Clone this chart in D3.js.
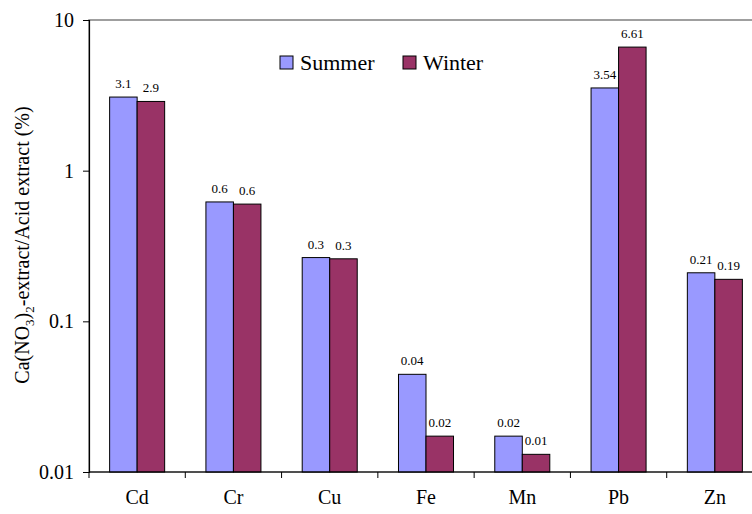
<!DOCTYPE html>
<html>
<head>
<meta charset="utf-8">
<script src="https://cdn.jsdelivr.net/npm/d3@7"></script>
<style>
  html, body { margin: 0; padding: 0; background: #fff; }
  svg { display: block; }
  #chart text, #chart tspan { font-family: "Liberation Serif", "Times New Roman", serif !important; }
</style>
</head>
<body>
<svg id="chart" width="752" height="514" font-family="Liberation Serif"></svg>
<script>
// Ratio of Ca(NO3)2-extractable to acid-extractable metal, by season
const elements = ["Cd", "Cr", "Cu", "Fe", "Mn", "Pb", "Zn"];
const summer = [3.08, 0.62, 0.265, 0.0445, 0.0173, 3.54, 0.21];
const winter = [2.88, 0.60, 0.26, 0.0173, 0.0131, 6.61, 0.19];
// decimals used when printing each element's value labels
const labelDecimals = [1, 1, 1, 2, 2, 2, 2];
const seriesNames = ["Summer", "Winter"];
const seriesColors = ["#9999ff", "#993366"];
const yTicks = [0.01, 0.1, 1, 10];

const FONT = "Liberation Serif";
const FONT_CSS = '"Liberation Serif", "Times New Roman", serif';

const svg = d3.select("#chart").attr("font-family", FONT);
const m = { left: 89, top: 20, right: 763, bottom: 472 };

const x = d3.scaleBand().domain(elements).range([m.left, m.right]).paddingInner(0).paddingOuter(0);
const inner = d3.scaleBand().domain(seriesNames).range([0, x.bandwidth()]).paddingInner(0).paddingOuter(0.75);
const y = d3.scaleLog().domain([0.01, 10]).range([m.bottom, m.top]);

const rows = elements.map((el, i) => ({
  el, dec: labelDecimals[i],
  vals: [{ s: "Summer", v: summer[i], c: seriesColors[0] }, { s: "Winter", v: winter[i], c: seriesColors[1] }]
}));

// plot frame (top edge; right edge falls outside the page)
svg.append("rect")
  .attr("x", m.left).attr("y", m.top)
  .attr("width", m.right - m.left).attr("height", m.bottom - m.top)
  .attr("fill", "none").attr("stroke", "#808080").attr("stroke-width", 1.5);

// bars with value labels
const g = svg.append("g");
rows.forEach(r => {
  const gx = x(r.el);
  r.vals.forEach(d => {
    const bx = gx + inner(d.s);
    g.append("rect")
      .attr("x", bx).attr("y", y(d.v))
      .attr("width", inner.bandwidth()).attr("height", y(0.01) - y(d.v))
      .attr("fill", d.c).attr("stroke", "#000").attr("stroke-width", 1);
    g.append("text")
      .attr("x", bx + inner.bandwidth() / 2).attr("y", y(d.v) - 9)
      .attr("text-anchor", "middle").attr("font-size", 13).attr("fill", "#000")
      .text(d.v.toFixed(r.dec));
  });
});

// y axis
const yAxis = d3.axisLeft(y).tickValues(yTicks).tickSize(6).tickPadding(9)
  .tickFormat(d => String(d));
const ya = svg.append("g").attr("transform", `translate(${m.left},0)`).call(yAxis)
  .attr("font-family", FONT);
ya.select(".domain").attr("stroke", "#000").attr("stroke-width", 1.2);
ya.selectAll(".tick line").attr("stroke", "#000");
ya.selectAll(".tick text").attr("font-size", 20).attr("fill", "#000");

// x axis with ticks on category boundaries
const xa = svg.append("g").attr("transform", `translate(0,${m.bottom})`);
xa.append("line").attr("x1", m.left).attr("x2", m.right).attr("stroke", "#000").attr("stroke-width", 1.2);
elements.forEach(el => {
  xa.append("line").attr("x1", x(el)).attr("x2", x(el)).attr("y1", 0).attr("y2", 6).attr("stroke", "#000");
  xa.append("text").attr("x", x(el) + x.bandwidth() / 2).attr("y", 32)
    .attr("text-anchor", "middle").attr("font-size", 20).attr("fill", "#000").text(el);
});

// y axis title with sub-scripts
const title = svg.append("text")
  .attr("transform", `translate(29,245) rotate(-90)`)
  .attr("text-anchor", "middle").attr("font-size", 20).attr("fill", "#000");
title.append("tspan").text("Ca(NO");
title.append("tspan").attr("font-size", 13).attr("dy", 5).text("3");
title.append("tspan").attr("dy", -5).text(")");
title.append("tspan").attr("font-size", 13).attr("dy", 5).text("2");
title.append("tspan").attr("dy", -5).text("-extract/Acid extract (%)");

// legend
const legend = svg.append("g");
const legendX = [280, 403];
seriesNames.forEach((s, i) => {
  legend.append("rect").attr("x", legendX[i]).attr("y", 56).attr("width", 13).attr("height", 13)
    .attr("fill", seriesColors[i]).attr("stroke", "#000");
  legend.append("text").attr("x", legendX[i] + 20).attr("y", 70)
    .attr("font-size", 22).attr("fill", "#000").text(s);
});

// every label in the serif face
svg.selectAll("text").attr("font-family", FONT).style("font-family", FONT_CSS, "important");
</script>
</body>
</html>
